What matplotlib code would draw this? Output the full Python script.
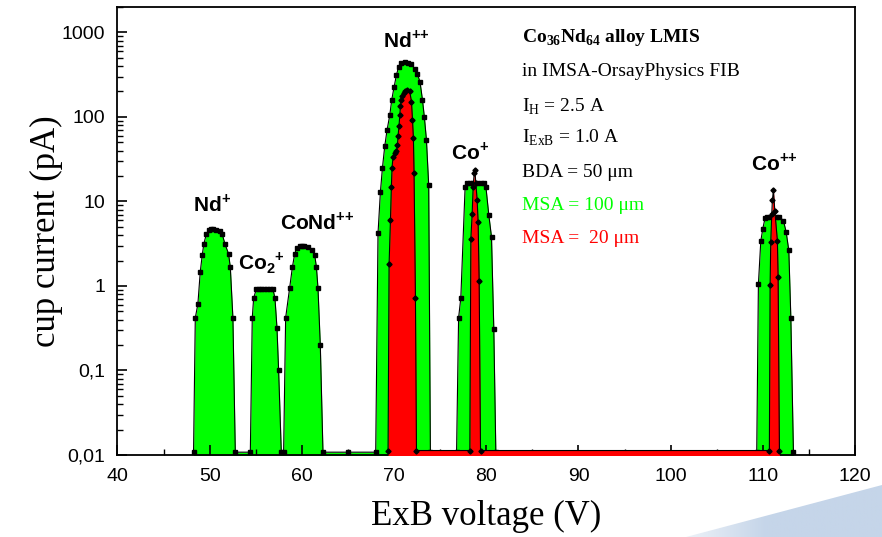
import numpy as np
import matplotlib
matplotlib.use("Agg")
import matplotlib.pyplot as plt
from matplotlib.patches import Polygon
from matplotlib.colors import LinearSegmentedColormap

plt.rcParams['mathtext.fontset'] = 'custom'
plt.rcParams['mathtext.rm'] = 'Liberation Serif'
plt.rcParams['mathtext.bf'] = 'Liberation Serif:bold'
plt.rcParams['mathtext.sf'] = 'Liberation Sans:bold'

# MSA = 100 um (green)
v100 = [48.25, 48.44, 48.72, 48.98, 49.20, 49.37, 49.63, 49.91, 50.10, 50.35, 50.70, 51.07, 51.37,
        51.65, 52.05, 52.24, 52.52, 52.78,
        54.41, 54.62, 54.77, 55.06, 55.30, 55.60, 55.90, 56.20, 56.50, 56.86, 57.08, 57.30, 57.48, 57.77,
        58.02, 58.24, 58.67, 58.97, 59.22, 59.47, 59.76, 60.00, 60.20, 60.63, 61.14, 61.39, 61.58,
        61.75, 62.00, 62.29, 65.00,
        68.01, 68.26, 68.52, 68.74, 68.99, 69.24, 69.53, 69.75, 70.00, 70.26, 70.51, 70.80, 71.16,
        71.52, 71.89, 72.25, 72.54, 72.82, 73.08, 73.29, 73.51, 73.76, 73.94,
        76.78, 77.00, 77.24, 77.71, 77.86, 78.20, 78.60, 79.00, 79.40, 79.74, 79.96, 80.28, 80.57,
        80.82, 81.04,
        109.34, 109.52, 109.78, 110.00, 110.25, 110.50, 110.80, 111.10, 111.40, 111.80, 112.24,
        112.53, 112.82, 113.04, 113.32]
i100 = [0.0108, 0.42, 0.61, 1.48, 2.35, 3.16, 4.08, 4.6, 4.75, 4.75, 4.6, 4.45, 4.08,
        3.16, 2.4, 1.66, 0.42, 0.0108,
        0.0108, 0.42, 0.72, 0.92, 0.92, 0.92, 0.92, 0.92, 0.92, 0.92, 0.72, 0.32, 0.10, 0.0108,
        0.0108, 0.42, 0.94, 1.66, 2.4, 2.85, 2.95, 3.0, 2.98, 2.9, 2.63, 2.35, 1.66,
        0.94, 0.20, 0.0108, 0.0108,
        0.0108, 4.2, 13, 25, 45, 70, 104, 160, 225, 315, 395, 430, 448,
        440, 418, 370, 322, 258, 160, 99, 54, 15.5, 0.0108,
        0.0108, 0.42, 0.72, 15, 16.5, 16.5, 16.5, 16.5, 16.5, 16.5, 15, 6.9, 3.8,
        0.31, 0.0108,
        0.0108, 1.05, 3.4, 4.78, 6.4, 6.6, 6.6, 6.6, 6.6, 6.6, 5.9,
        4.36, 2.63, 0.42, 0.0108]

# MSA = 20 um (red)
v20 = [69.35, 69.46, 69.61, 69.71, 69.78, 69.89, 70.08, 70.26, 70.37, 70.43, 70.54, 70.62, 70.69,
       70.80, 70.91, 71.05, 71.19, 71.45, 71.70, 71.89, 72.00, 72.10, 72.17, 72.32, 72.43,
       78.22, 78.33, 78.47, 78.58, 78.69, 78.76, 78.87, 79.01, 79.12, 79.23, 79.38,
       110.71, 110.79, 110.86, 110.97, 111.04, 111.15, 111.30, 111.58, 111.66, 111.80]
i20 = [0.0113, 1.8, 6.1, 15, 25, 34, 37.5, 39, 47, 59, 79, 104, 133,
       160, 175, 192, 205, 209, 200, 152, 92, 56, 21.5, 0.72, 0.0113,
       0.0113, 3.6, 7.1, 15, 21.5, 23.5, 16.5, 10.5, 5.7, 1.15, 0.0113,
       0.0113, 1.02, 3.3, 7.1, 10.5, 13.5, 7.8, 3.45, 1.26, 0.0113]

ytick_vals = [0.01, 0.1, 1, 10, 100, 1000]
ytick_lbls = ["0,01", "0,1", "1", "10", "100", "1000"]
xtick_vals = [40, 50, 60, 70, 80, 90, 100, 110, 120]

peaks = [("Nd$^{\\mathsf{+}}$", 50.3, 7.7),
         ("Co$_{\\mathsf{2}}$$^{\\mathsf{+}}$", 55.6, 1.55),
         ("CoNd$^{\\mathsf{{+}{+}}}$", 61.7, 4.7),
         ("Nd$^{\\mathsf{{+}{+}}}$", 71.3, 656),
         ("Co$^{\\mathsf{+}}$", 78.2, 31.8),
         ("Co$^{\\mathsf{{+}{+}}}$", 111.2, 23.6)]

info = [("Co$_{\\mathbf{36}}$Nd$_{\\mathbf{64}}$ alloy LMIS", 'black', 'bold'),
        ("in IMSA-OrsayPhysics FIB", 'black', 'normal'),
        ("I$_{\\mathrm{H}}$ = 2.5 A", 'black', 'normal'),
        ("I$_{\\mathrm{ExB}}$ = 1.0 A", 'black', 'normal'),
        ("BDA = 50 μm", 'black', 'normal'),
        ("MSA = 100 μm", '#00ff00', 'normal'),
        ("MSA =  20 μm", '#ff0000', 'normal')]
info_y = [0.9225, 0.8466, 0.7663, 0.697, 0.6213, 0.5469, 0.4725]

fig = plt.figure(figsize=(8.82, 5.37), dpi=100)

# light blue swoosh in the corner
bg = fig.add_axes([0, 0, 1, 1], zorder=0)
bg.axis('off')
bg.set_xlim(0, 882)
bg.set_ylim(537, 0)
cm = LinearSegmentedColormap.from_list('sw', ['#ffffff', '#c5d5e9', '#c5d5e9'])
im = bg.imshow(np.linspace(0, 1, 256)[None, :], extent=[650, 882, 537, 470], cmap=cm, aspect='auto')
poly = Polygon([(686, 537), (882, 485), (882, 537)], closed=True, facecolor='none', edgecolor='none')
bg.add_patch(poly)
im.set_clip_path(poly)

ax = fig.add_axes([0.1332, 0.1527, 0.8362, 0.8343], zorder=1)
ax.set_yscale('log')

ax.fill_between(v100, i100, 0.001, color='#00ff00', lw=0, zorder=1)
ax.plot(v100, i100, color='k', lw=0.8, marker='s', ms=2.8, zorder=2)
ax.fill_between(v20, i20, 0.001, color='#ff0000', lw=0, zorder=3)
ax.plot(v20, i20, color='k', lw=0.8, marker='D', ms=2.6, zorder=4)

ax.set_xlim(40, 120)
ax.set_ylim(0.01, 2000)

ax.set_xticks(xtick_vals)
ax.set_xticklabels([str(v) for v in xtick_vals])
ax.set_xticks(np.arange(45, 120, 10), minor=True)
ax.set_yticks(ytick_vals)
ax.set_yticklabels(ytick_lbls)
ax.yaxis.set_minor_locator(matplotlib.ticker.LogLocator(subs=np.arange(2, 10)))
ax.yaxis.set_minor_formatter(matplotlib.ticker.NullFormatter())

for lab in ax.get_xticklabels() + ax.get_yticklabels():
    lab.set_family('Liberation Sans')
    lab.set_fontsize(14)
ax.tick_params(which='major', direction='in', length=7, width=1.2, top=False, right=False)
ax.tick_params(which='minor', direction='in', length=4, width=1.0, top=False, right=False)
ax.tick_params(axis='x', pad=9)
ax.tick_params(axis='y', pad=9)
for s in ax.spines.values():
    s.set_linewidth(1.3)

ax.set_xlabel("ExB voltage (V)", family='Liberation Serif', fontsize=25, labelpad=11)
ax.set_ylabel("cup current (pA)", family='Liberation Serif', fontsize=25, labelpad=-1)

for txt, x, y in peaks:
    ax.text(x, y, txt, family='Liberation Sans', weight='bold', fontsize=15,
            ha='center', va='baseline', zorder=5)

for (txt, c, w), yy in zip(info, info_y):
    ax.text(0.549, yy, txt, transform=ax.transAxes, family='Liberation Serif',
            fontsize=14, color=c, weight=w, ha='left', va='baseline')

fig.savefig("out.png", dpi=100)
